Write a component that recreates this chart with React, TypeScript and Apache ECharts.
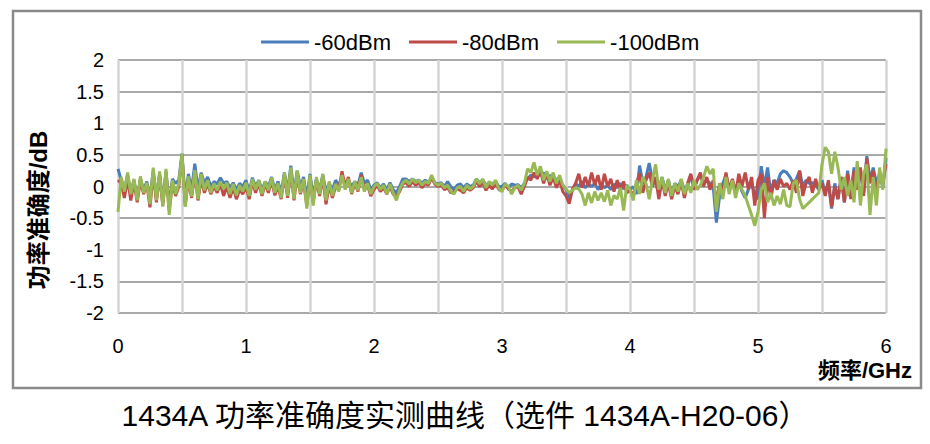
import React, { useEffect, useRef } from "react";
import * as echarts from "echarts";

// Frequency sampling step (GHz) and range
const FREQ_STEP = 0.025;
const X_TICKS = ["0", "1", "2", "3", "4", "5", "6"];
const Y_TICKS = ["-2", "-1.5", "-1", "-0.5", "0", "0.5", "1", "1.5", "2"];
const SERIES_NAMES = ["-60dBm", "-80dBm", "-100dBm"];

// -60 dBm (blue)
const BLUE = [
  0.28, 0.10, -0.05, 0.18, -0.10, 0.10, -0.20, 0.12, -0.05, 0.08, -0.22, 0.25, -0.18, 0.20, -0.25, 0.24, -0.30, 0.12, 0.05, 0.10,
  0.52, -0.20, 0.20, -0.05, 0.36, -0.05, 0.22, 0.05, 0.15, 0.00, 0.08, 0.04, 0.14, 0.05, 0.08, -0.02, 0.06, -0.05, 0.05, 0.00,
  0.10, -0.08, 0.14, 0.00, 0.10, -0.05, 0.08, 0.00, 0.15, -0.05, 0.08, -0.10, 0.22, -0.08, 0.33, -0.10, 0.25, 0.00, 0.15, -0.20,
  0.20, -0.15, 0.12, -0.05, 0.18, -0.08, 0.05, -0.05, 0.10, 0.02, 0.12, 0.05, 0.10, 0.00, 0.08, 0.02, 0.22, 0.05, 0.10, -0.05,
  0.02, 0.06, -0.02, 0.04, -0.05, 0.06, -0.05, -0.10, 0.00, 0.12, 0.12, 0.08, 0.12, 0.08, 0.10, 0.05, 0.10, 0.06, 0.15, 0.06,
  0.04, 0.06, 0.00, 0.08, 0.00, -0.05, 0.02, 0.04, -0.02, 0.04, 0.00, 0.02, 0.12, 0.06, 0.10, 0.02, 0.06, 0.04, 0.08, 0.00,
  0.00, 0.05, -0.02, 0.04, 0.02, 0.03, -0.02, 0.05, 0.12, 0.18, 0.15, 0.20, 0.18, 0.22, 0.12, 0.18, 0.10, 0.12, 0.05, 0.02,
  -0.05, -0.18, -0.05, 0.05, 0.00, 0.08, -0.02, 0.04, 0.00, 0.05, -0.05, 0.04, -0.02, 0.02, -0.05, 0.04, -0.02, 0.05, -0.04, 0.02,
  -0.05, 0.00, -0.12, 0.33, 0.05, 0.15, 0.37, 0.10, 0.05, -0.10, 0.15, -0.05, 0.10, -0.12, 0.05, 0.00, 0.10, -0.05, 0.00, 0.18,
  0.00, 0.10, 0.18, 0.05, 0.10, 0.05, 0.00, -0.57, -0.15, 0.05, 0.18, -0.05, 0.10, -0.05, 0.08, -0.08, -0.18, -0.05, 0.05, -0.12,
  -0.20, 0.32, 0.00, 0.30, -0.10, 0.10, 0.05, 0.20, 0.25, 0.22, 0.15, 0.05, 0.12, 0.25, 0.00, 0.10, 0.05, 0.06, 0.02, -0.05,
  0.10, -0.10, 0.05, -0.35, 0.05, -0.20, 0.15, -0.25, 0.25, -0.15, 0.30, 0.00, 0.25, -0.10, 0.48, 0.10, 0.30, 0.05, 0.20, -0.02,
  0.45,
];

// -80 dBm (red)
const RED = [
  0.10, 0.05, -0.18, 0.12, -0.22, 0.08, -0.25, 0.10, -0.12, 0.04, -0.33, 0.22, -0.25, 0.18, -0.30, 0.22, -0.38, 0.05, -0.15, 0.00,
  0.50, -0.30, 0.10, -0.18, 0.22, -0.22, 0.12, -0.10, 0.05, -0.12, 0.00, -0.10, 0.04, -0.15, 0.00, -0.18, -0.02, -0.20, -0.05, -0.12,
  0.00, -0.20, 0.08, -0.10, 0.05, -0.15, 0.04, -0.10, 0.10, -0.14, 0.00, -0.20, 0.18, -0.18, 0.25, -0.22, 0.20, -0.12, 0.08, -0.30,
  0.12, -0.25, 0.10, -0.15, 0.15, -0.28, 0.02, -0.18, 0.00, -0.05, 0.24, 0.00, 0.15, -0.12, 0.05, -0.08, 0.18, -0.05, 0.02, -0.15,
  -0.05, 0.02, -0.08, -0.02, -0.12, 0.00, -0.12, -0.15, -0.08, 0.04, 0.06, 0.00, 0.08, 0.02, 0.06, -0.02, 0.05, 0.02, 0.14, 0.04,
  0.00, 0.02, -0.05, -0.02, -0.10, -0.08, -0.04, -0.06, -0.10, -0.02, -0.06, -0.02, 0.08, 0.00, 0.06, -0.06, 0.02, -0.04, 0.05, -0.05,
  -0.06, 0.02, -0.04, -0.08, -0.02, 0.00, -0.12, 0.00, 0.15, 0.10, 0.22, 0.12, 0.25, 0.05, 0.20, 0.02, 0.15, -0.02, 0.10, -0.08,
  -0.15, -0.27, -0.05, 0.05, 0.20, -0.02, 0.15, 0.00, 0.22, 0.02, 0.18, -0.05, 0.20, 0.00, 0.12, -0.08, 0.10, -0.05, 0.08, -0.10,
  -0.05, -0.15, 0.05, 0.20, -0.10, 0.10, 0.22, 0.00, 0.15, -0.20, 0.10, -0.15, 0.05, -0.20, 0.00, -0.12, 0.08, -0.18, 0.05, 0.20,
  -0.05, 0.10, 0.22, 0.00, 0.15, -0.05, 0.10, -0.25, 0.05, -0.10, 0.22, -0.05, 0.12, -0.12, 0.20, 0.00, 0.22, -0.05, 0.15, -0.30,
  0.10, 0.20, -0.50, 0.15, -0.20, 0.10, -0.05, 0.12, 0.00, 0.05, -0.05, 0.10, -0.10, 0.25, -0.15, 0.05, 0.15, -0.10, 0.12, -0.05,
  0.05, -0.15, 0.10, -0.32, 0.00, -0.20, 0.15, -0.25, 0.20, -0.20, 0.25, -0.05, 0.30, -0.15, 0.45, 0.05, 0.25, -0.05, 0.15, 0.05,
  0.35,
];

// -100 dBm (green)
const GREEN = [
  -0.40, 0.15, -0.08, 0.22, -0.12, 0.12, -0.22, 0.16, -0.10, 0.06, -0.28, 0.30, -0.22, 0.24, -0.32, 0.28, -0.45, 0.10, -0.12, 0.04,
  0.52, -0.32, 0.16, -0.16, 0.26, -0.20, 0.20, -0.06, 0.10, -0.10, 0.05, -0.06, 0.08, -0.04, 0.06, -0.12, 0.04, -0.14, 0.02, -0.08,
  0.06, -0.15, 0.12, -0.05, 0.10, -0.12, 0.08, -0.06, 0.14, -0.10, 0.05, -0.18, 0.22, -0.15, 0.30, -0.20, 0.25, -0.10, 0.12, -0.35,
  0.18, -0.30, 0.15, -0.12, 0.20, -0.22, 0.08, -0.15, 0.04, -0.08, 0.18, -0.05, 0.12, -0.10, 0.08, -0.06, 0.15, -0.08, 0.05, -0.12,
  0.00, 0.05, -0.05, 0.02, -0.12, 0.04, -0.10, -0.22, -0.05, 0.06, 0.10, 0.04, 0.12, 0.06, 0.10, 0.02, 0.08, 0.05, 0.18, 0.06,
  0.02, 0.05, -0.02, 0.02, -0.08, -0.12, -0.02, 0.00, -0.08, 0.02, -0.04, 0.00, 0.12, 0.04, 0.12, -0.02, 0.08, 0.02, 0.10, -0.04,
  -0.08, 0.04, 0.00, -0.12, -0.02, 0.02, -0.06, 0.05, 0.28, 0.22, 0.38, 0.18, 0.32, 0.10, 0.24, 0.08, 0.22, 0.05, 0.18, 0.02,
  -0.04, -0.10, -0.06, -0.02, -0.04, -0.12, -0.30, -0.10, -0.26, -0.08, -0.22, -0.10, -0.24, -0.06, -0.30, -0.14, -0.20, -0.02, -0.38, 0.02,
  -0.05, -0.22, 0.10, -0.12, 0.15, 0.05, -0.20, 0.10, 0.35, -0.05, 0.15, -0.10, 0.12, -0.15, 0.05, -0.08, 0.12, -0.12, 0.05, -0.10,
  0.10, -0.05, 0.02, 0.15, 0.32, 0.20, 0.28, -0.40, 0.05, -0.20, 0.15, -0.12, 0.10, -0.18, 0.05, -0.05, -0.15, -0.30, -0.45, -0.62,
  -0.40, -0.05, 0.05, -0.25, -0.10, -0.30, -0.15, -0.28, -0.05, -0.30, -0.32, 0.05, 0.10, -0.20, -0.35, -0.30, -0.25, -0.20, -0.15, -0.10,
  0.35, 0.62, 0.55, 0.20, 0.55, 0.30, -0.05, 0.15, -0.15, 0.10, -0.25, 0.40, -0.30, 0.20, 0.35, -0.45, 0.15, -0.30, 0.30, -0.05,
  0.60,
];

const COLORS = ["#4a7ebb", "#be4b48", "#98b954"];
const CAPTION = "1434A 功率准确度实测曲线（选件 1434A-H20-06）";
const Y_TITLE = "功率准确度/dB";
const X_TITLE = "频率/GHz";

const FONT = "'Liberation Sans', Arial, 'Noto Sans CJK SC', sans-serif";

function toPairs(values: number[]): [number, number][] {
  return values.map((v, i) => [Number((i * FREQ_STEP).toFixed(3)), v]);
}

export default function App() {
  const ref = useRef<HTMLDivElement>(null);

  useEffect(() => {
    document.body.style.margin = "0";
    if (!ref.current) return;
    const chart = echarts.init(ref.current, null, { renderer: "svg" });
    const all = [BLUE, RED, GREEN];
    chart.setOption({
      animation: false,
      backgroundColor: "#ffffff",
      textStyle: { fontFamily: FONT },
      grid: { left: 118, right: 44, top: 60, bottom: 131, containLabel: false },
      legend: {
        left: 256,
        top: 26,
        icon: "rect",
        itemWidth: 48,
        itemHeight: 3,
        itemGap: 18,
        textStyle: { fontSize: 22, color: "#000", fontFamily: FONT },
        data: SERIES_NAMES,
      },
      xAxis: {
        type: "value",
        min: 0,
        max: 6,
        interval: 0.5,
        axisLine: { show: false },
        axisTick: { show: false },
        axisLabel: {
          fontSize: 20,
          color: "#000",
          margin: 23,
          fontFamily: FONT,
          formatter: (v: number) => (X_TICKS.includes(String(v)) ? String(v) : ""),
        },
        splitLine: { show: true, lineStyle: { color: "#d4d4d4", width: 2.5 } },
      },
      yAxis: {
        type: "value",
        min: -2,
        max: 2,
        interval: 0.5,
        axisLine: { show: false },
        axisTick: { show: false },
        axisLabel: {
          fontSize: 20,
          color: "#000",
          margin: 14,
          fontFamily: FONT,
          formatter: (v: number) => (Y_TICKS.includes(String(v)) ? String(v) : ""),
        },
        splitLine: { show: true, lineStyle: { color: "#8c8c8c", width: 1.5 } },
      },
      graphic: [
        {
          type: "rect",
          shape: { x: 13, y: 11, width: 908, height: 377 },
          style: { fill: "none", stroke: "#8a8a8a", lineWidth: 2.5 },
          z: -1,
        },
        {
          type: "text",
          x: 38,
          y: 210,
          rotation: Math.PI / 2,
          style: {
            text: Y_TITLE,
            fontSize: 24,
            fontWeight: "bold",
            fill: "#000",
            fontFamily: FONT,
            align: "center",
            verticalAlign: "middle",
          },
        },
        {
          type: "text",
          x: 912,
          y: 370,
          style: {
            text: X_TITLE,
            fontSize: 22,
            fontWeight: "bold",
            fill: "#000",
            fontFamily: FONT,
            align: "right",
            verticalAlign: "middle",
          },
        },
        {
          type: "text",
          x: 465,
          y: 415,
          style: {
            text: CAPTION,
            fontSize: 30,
            fill: "#000",
            fontFamily: FONT,
            align: "center",
            verticalAlign: "middle",
          },
        },
      ],
      series: SERIES_NAMES.map((name, i) => ({
        name,
        type: "line",
        showSymbol: false,
        symbol: "none",
        data: toPairs(all[i]),
        lineStyle: { color: COLORS[i], width: 3 },
        itemStyle: { color: COLORS[i] },
        z: 2 + i,
      })),
    });
    return () => chart.dispose();
  }, []);

  return <div ref={ref} style={{ width: 930, height: 444 }} />;
}
